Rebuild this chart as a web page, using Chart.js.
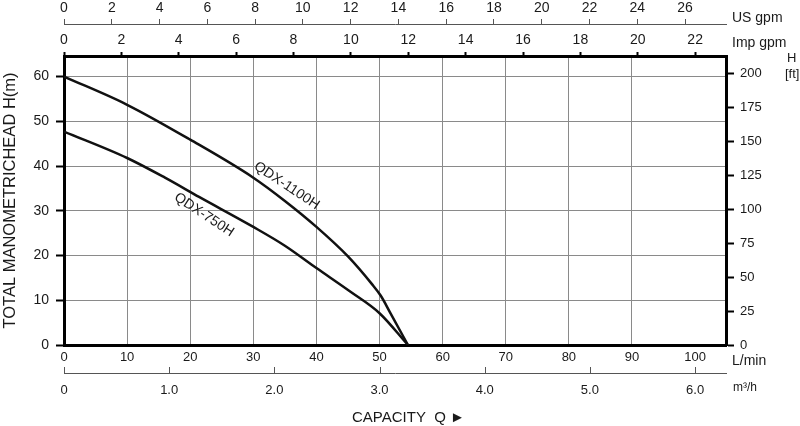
<!DOCTYPE html>
<html>
<head>
<meta charset="utf-8">
<script src="https://cdn.jsdelivr.net/npm/chart.js@4"></script>
<style>
  body { margin: 0; background: #fff; }
  #wrap { width: 800px; height: 426px; }
</style>
</head>
<body>
<div id="wrap"><canvas id="pump-chart" width="800" height="426"></canvas></div>
<script>
// datos (caudal en L/min, altura en m)
const flow1100 = [0, 10, 20, 30, 35, 40, 45, 48.8, 50.2, 51.7, 54.5];
const head1100 = [60, 53.7, 45.9, 37.4, 32.2, 26.4, 19.8, 13.6, 11, 7.2, 0];
const flow750 = [0, 10, 16, 21.4, 30, 35, 40, 45.4, 50, 54.5];
const head750 = [47.7, 41.8, 37.4, 33.1, 26.4, 22.2, 17.2, 11.9, 7.1, 0];
const seriesNames = ['QDX-1100H', 'QDX-750H'];

// limites de los ejes
const lminMax = 104.9;
const headMax = 64.6;
const ftMax = 213;

const font = 'Liberation Sans, Arial, sans-serif';
const ink = '#1a1a1a';
const gridGray = '#8a8a8a';

function toPoints(xs, ys) {
    return xs.map((x, i) => ({ x: x, y: ys[i] }));
}

// etiquetas de las curvas, unidades y marcas del eje m3/h
const labelsPlugin = {
    id: 'labels',
    afterDraw(chart) {
        const c = chart.ctx;
        const sx = chart.scales.x, sy = chart.scales.y, s2 = chart.scales.x2;
        c.save();

        // marcas hacia arriba en el eje m3/h
        c.strokeStyle = '#555';
        c.lineWidth = 1;
        s2.ticks.forEach(t => {
            const px = Math.round(s2.getPixelForValue(t.value)) + 0.5;
            c.beginPath();
            c.moveTo(px, s2.top);
            c.lineTo(px, s2.top - 6);
            c.stroke();
        });

        c.fillStyle = ink;
        c.font = '14px ' + font;
        c.textAlign = 'center';
        c.textBaseline = 'middle';
        const curveLabels = [
            { text: seriesNames[0], x: 35.3, y: 35.6 },
            { text: seriesNames[1], x: 22.2, y: 29.1 }
        ];
        curveLabels.forEach(l => {
            c.save();
            c.translate(sx.getPixelForValue(l.x), sy.getPixelForValue(l.y));
            c.rotate(33.5 * Math.PI / 180);
            c.fillText(l.text, 0, 0);
            c.restore();
        });

        c.textAlign = 'left';
        c.font = '14px ' + font;
        c.fillText('US gpm', 732, 18);
        c.fillText('Imp gpm', 732, 43);
        c.fillText('L/min', 732, 361);
        c.font = '12px ' + font;
        c.fillText('m³/h', 733, 388);
        c.font = '13px ' + font;
        c.fillText('H', 787, 58);
        c.fillText('[ft]', 785, 74);
        c.font = '15px ' + font;
        c.fillText('CAPACITY  Q ►', 352, 418);
        c.restore();
    }
};

const ctx = document.getElementById('pump-chart').getContext('2d');

const pumpChart = new Chart(ctx, {
    type: 'line',
    data: {
        datasets: [
            {
                label: seriesNames[0],
                data: toPoints(flow1100, head1100),
                borderColor: '#111',
                borderWidth: 2.5,
                pointRadius: 0,
                cubicInterpolationMode: 'monotone',
                xAxisID: 'x',
                yAxisID: 'y'
            },
            {
                label: seriesNames[1],
                data: toPoints(flow750, head750),
                borderColor: '#111',
                borderWidth: 2.5,
                pointRadius: 0,
                cubicInterpolationMode: 'monotone',
                xAxisID: 'x',
                yAxisID: 'y'
            }
        ]
    },
    options: {
        responsive: false,
        animation: false,
        layout: { padding: 0 },
        plugins: {
            legend: { display: false },
            tooltip: { enabled: false }
        },
        scales: {
            // L/min
            x: {
                type: 'linear',
                position: 'bottom',
                weight: 0,
                min: 0,
                max: lminMax,
                ticks: { stepSize: 10, includeBounds: false, color: ink, font: { family: font, size: 13 }, padding: 5 },
                grid: {
                    color: c => (c.tick && (c.tick.value === 0 || c.tick.value === 100)) ? 'rgba(0,0,0,0)' : gridGray,
                    lineWidth: 1,
                    drawTicks: false
                },
                border: { display: true, color: '#000', width: 3 },
                afterFit(s) { s.height = 28; }
            },
            // m3/h
            x2: {
                type: 'linear',
                position: 'bottom',
                weight: 1,
                min: 0,
                max: lminMax * 60 / 1000,
                ticks: {
                    stepSize: 1,
                    includeBounds: false,
                    color: ink,
                    font: { family: font, size: 13 },
                    padding: 10,
                    callback: v => v === 0 ? '0' : v.toFixed(1)
                },
                grid: { drawOnChartArea: false, drawTicks: false },
                border: { display: true, color: '#555', width: 1 },
                afterFit(s) { s.height = 53; }
            },
            // Imp gpm
            x3: {
                type: 'linear',
                position: 'top',
                weight: 0,
                min: 0,
                max: lminMax / 4.546,
                ticks: { stepSize: 2, includeBounds: false, color: ink, font: { family: font, size: 14 }, padding: 3 },
                grid: { drawOnChartArea: false, tickLength: 4, tickColor: '#000', tickWidth: 2 },
                border: { display: true, color: '#000', width: 3 },
                afterFit(s) { s.height = 32; }
            },
            // US gpm
            x4: {
                type: 'linear',
                position: 'top',
                weight: 1,
                min: 0,
                max: lminMax / 3.785,
                ticks: { stepSize: 2, includeBounds: false, color: ink, font: { family: font, size: 14 }, padding: 2 },
                grid: { drawOnChartArea: false, tickLength: 5, tickColor: '#555' },
                border: { display: true, color: '#555', width: 1 },
                afterFit(s) { s.height = 24; }
            },
            // H (m)
            y: {
                type: 'linear',
                position: 'left',
                min: 0,
                max: headMax,
                ticks: { stepSize: 10, includeBounds: false, color: ink, font: { family: font, size: 14 }, padding: 7 },
                grid: { color: gridGray, lineWidth: 1, tickLength: 8, tickColor: '#000', tickWidth: 2 },
                border: { display: true, color: '#000', width: 3 },
                title: {
                    display: true,
                    text: 'TOTAL MANOMETRICHEAD H(m)',
                    color: ink,
                    font: { family: font, size: 16.5 },
                    padding: { top: 1, bottom: 0 }
                },
                afterFit(s) { s.width = 64; }
            },
            // H (ft)
            y2: {
                type: 'linear',
                position: 'right',
                min: 0,
                max: ftMax,
                ticks: { stepSize: 25, includeBounds: false, color: ink, font: { family: font, size: 13 }, padding: 6 },
                grid: { drawOnChartArea: false, tickLength: 8, tickColor: '#000', tickWidth: 2 },
                border: { display: true, color: '#000', width: 3 },
                afterFit(s) { s.width = 74; }
            }
        }
    },
    plugins: [labelsPlugin]
});
</script>
</body>
</html>
